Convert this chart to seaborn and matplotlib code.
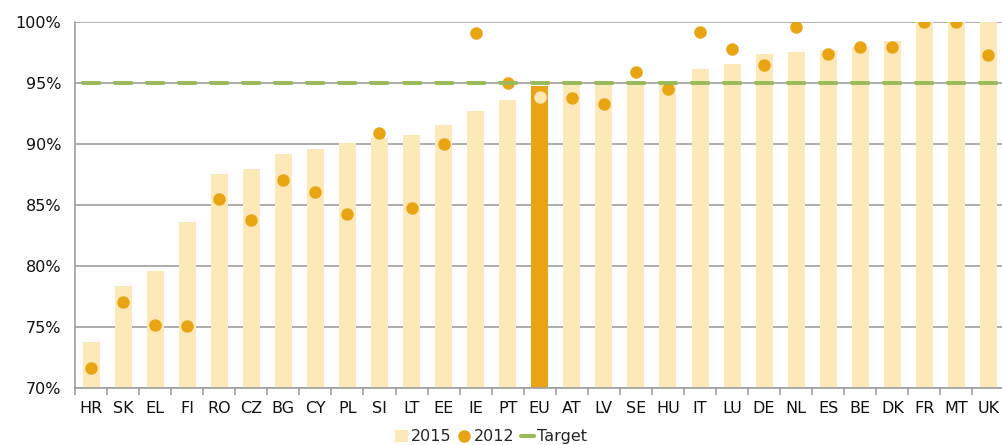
import numpy as np
import pandas as pd
import matplotlib.pyplot as plt
import seaborn as sns
from matplotlib.patches import Patch
from matplotlib.lines import Line2D
from matplotlib.ticker import FixedLocator, PercentFormatter

# Data
countries = ['HR', 'SK', 'EL', 'FI', 'RO', 'CZ', 'BG', 'CY', 'PL', 'SI', 'LT', 'EE', 'IE', 'PT', 'EU',
             'AT', 'LV', 'SE', 'HU', 'IT', 'LU', 'DE', 'NL', 'ES', 'BE', 'DK', 'FR', 'MT', 'UK']
values_2015 = [73.8, 78.4, 79.6, 83.6, 87.6, 88.0, 89.2, 89.6, 90.1, 90.5, 90.8, 91.6, 92.7, 93.6, 94.8,
               95.0, 95.0, 95.1, 95.2, 96.2, 96.6, 97.4, 97.6, 97.7, 98.0, 98.5, 100.0, 100.0, 100.0]
values_2012 = [71.7, 77.1, 75.2, 75.1, 85.5, 83.8, 87.1, 86.1, 84.3, 90.9, 84.8, 90.0, 99.1, 95.0, 93.9,
               93.8, 93.3, 95.9, 94.5, 99.2, 97.8, 96.5, 99.6, 97.4, 98.0, 98.0, 100.0, 100.0, 97.3]
target = [95.0] * len(countries)

light = '#fce9b7'
gold = '#e8a413'
green = '#9bbb59'
blue = '#4a9fc4'
grid_grey = '#9e9e9e'

df = pd.DataFrame({'country': countries, 'y2015': values_2015, 'y2012': values_2012, 'target': target})
bar_pal = {c: (gold if c == 'EU' else light) for c in countries}
dot_pal = {c: (light if c == 'EU' else gold) for c in countries}

sns.set_style('white')
plt.rcParams['font.family'] = ['DejaVu Sans']

fig = plt.figure(figsize=(10.02, 4.45), dpi=100)
ax = fig.add_axes([75 / 1002, 56.7 / 445, 929.5 / 1002, 366 / 445])

sns.barplot(data=df, x='country', y='y2015', hue='country', palette=bar_pal, order=countries,
            width=0.53, saturation=1, linewidth=0, legend=False, ax=ax, zorder=2)
sns.stripplot(data=df, x='country', y='y2012', hue='country', palette=dot_pal, order=countries,
              jitter=False, size=9, linewidth=0, legend=False, ax=ax, zorder=3)

# target drawn as a short flat box on each category
box = [(-1, -0.14), (1, -0.14), (1, 0.14), (-1, 0.14), (-1, -0.14)]
sns.stripplot(data=df, x='country', y='target', order=countries, jitter=False, marker=box,
              size=13, color=blue, edgecolor=green, linewidth=1.4, ax=ax, zorder=4)

ax.set_xlim(-0.5, len(countries) - 0.5)
ax.set_ylim(70, 100)
ax.set_yticks([70, 75, 80, 85, 90, 95, 100])
ax.yaxis.set_major_formatter(PercentFormatter(decimals=0))
ax.xaxis.set_minor_locator(FixedLocator(np.arange(len(countries) + 1) - 0.5))
ax.set_xlabel('')
ax.set_ylabel('')

ax.set_axisbelow(True)
ax.yaxis.grid(True, color=grid_grey, linewidth=1.2)
ax.xaxis.grid(False)
for side in ['top', 'right']:
    ax.spines[side].set_visible(False)
for side in ['left', 'bottom']:
    ax.spines[side].set_color(grid_grey)
    ax.spines[side].set_linewidth(1.2)

ax.tick_params(axis='y', which='major', length=5, width=1.2, color=grid_grey, pad=5, labelsize=11.5, labelcolor='#111111')
ax.tick_params(axis='x', which='major', length=0, pad=9, labelsize=11.5, labelcolor='#111111')
ax.tick_params(axis='x', which='minor', length=5, width=1.2, color=grid_grey, bottom=True)

handles = [Patch(facecolor=light, edgecolor='none'),
           Line2D([], [], marker='o', linestyle='', color=gold, markersize=8),
           Line2D([], [], color=green, linewidth=3)]
fig.legend(handles, ['2015', '2012', 'Target'], loc='center', bbox_to_anchor=(0.49, 0.018), ncol=3,
           frameon=False, fontsize=11.5, handlelength=0.8, handletextpad=0.2, columnspacing=0.4,
           handleheight=0.8)

plt.savefig('out.png', dpi=100)
plt.close()
